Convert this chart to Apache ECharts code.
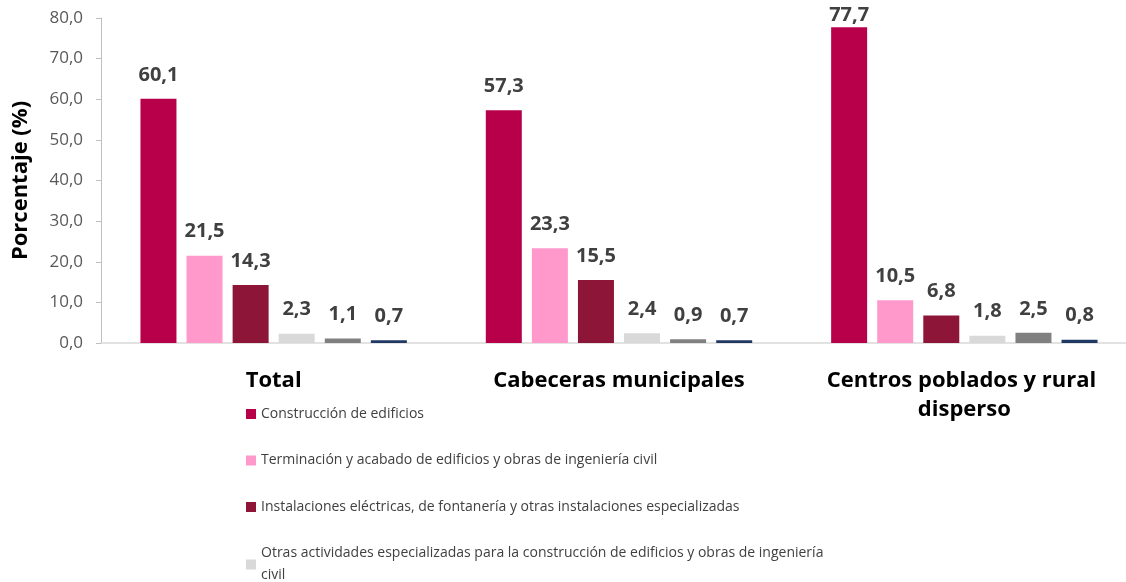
<!DOCTYPE html>
<html><head><meta charset="utf-8">
<script src="https://cdn.jsdelivr.net/npm/echarts@6/dist/echarts.min.js"></script>
<style>html,body{margin:0;padding:0;background:#fff}#c{width:1126px;height:582px}</style>
</head><body><div id="c"></div>
<script>
var categories = ['Total', 'Cabeceras municipales', 'Centros poblados y rural disperso'];
var seriesNames = [
  'Construcción de edificios',
  'Terminación y acabado de edificios y obras de ingeniería civil',
  'Instalaciones eléctricas, de fontanería y otras instalaciones especializadas',
  'Otras actividades especializadas para la construcción de edificios y obras de ingeniería civil',
  'Demolición y preparación del terreno',
  'Construcción de obras de ingeniería civil'
];
var construccionEdificios = [60.1, 57.3, 77.7];
var terminacionAcabado = [21.5, 23.3, 10.5];
var instalaciones = [14.3, 15.5, 6.8];
var otrasActividades = [2.3, 2.4, 1.8];
var demolicion = [1.1, 0.9, 2.5];
var obrasCiviles = [0.7, 0.7, 0.8];
var yTicks = [0, 10, 20, 30, 40, 50, 60, 70, 80];

var values = [construccionEdificios, terminacionAcabado, instalaciones, otrasActividades, demolicion, obrasCiviles];
var colors = ['#B8004A', '#FF99CC', '#8C1538', '#D9D9D9', '#808080', '#1F3864'];
var font = '"Open Sans", "Noto Sans", sans-serif';

// wrap long legend names like the original
function wrapText(s, maxChars) {
  var words = s.split(' '), lines = [], cur = '';
  words.forEach(function (w) {
    if ((cur + ' ' + w).trim().length > maxChars) { lines.push(cur); cur = w; }
    else cur = (cur + ' ' + w).trim();
  });
  lines.push(cur);
  return lines.join('\n');
}

var series = values.map(function (arr, i) {
  return {
    name: seriesNames[i],
    type: 'bar',
    barWidth: 36,
    barGap: '28%',
    itemStyle: { color: colors[i] },
    data: arr.map(function (v) {
      var d = { value: v };
      if (v > 75) d.label = { distance: 2 };
      return d;
    }),
    label: {
      show: true, position: 'top', distance: 14,
      fontFamily: font, fontWeight: 'bold', fontSize: 20, color: '#404040',
      formatter: function (p) { return p.value.toFixed(1).replace('.', ','); }
    }
  };
});

var chart = echarts.init(document.getElementById('c'));
chart.setOption({
  animation: false,
  color: colors,
  grid: { left: 101, right: -11, top: 18, bottom: 239, containLabel: false, outerBoundsMode: 'none' },
  legend: {
    orient: 'vertical', left: 241, top: 398, height: 1000,
    itemWidth: 10, itemHeight: 10, itemGap: 24.5,
    icon: 'rect',
    data: seriesNames,
    formatter: function (n) { return wrapText(n, 88); },
    textStyle: { fontFamily: font, fontSize: 14, color: '#404040', lineHeight: 22 },
    selectedMode: false
  },
  xAxis: {
    type: 'category', data: categories,
    axisLine: { show: true, lineStyle: { color: '#D9D9D9', width: 1.5 } },
    axisTick: { show: false },
    axisLabel: {
      fontFamily: font, fontWeight: 'bold', fontSize: 22, color: '#000',
      margin: 23, width: 285, overflow: 'break', lineHeight: 29, interval: 0, align: 'center'
    }
  },
  yAxis: {
    type: 'value', min: yTicks[0], max: yTicks[yTicks.length - 1], interval: 10,
    name: 'Porcentaje (%)', nameLocation: 'middle', nameGap: 69, nameRotate: 90,
    nameTextStyle: { fontFamily: font, fontWeight: 'bold', fontSize: 22, color: '#000' },
    axisLine: { show: true, lineStyle: { color: '#BFBFBF', width: 1 } },
    axisTick: { show: true, inside: false, length: 5, lineStyle: { color: '#BFBFBF' } },
    splitLine: { show: false },
    axisLabel: {
      fontFamily: font, fontSize: 17, color: '#595959', margin: 18,
      formatter: function (v) { return v.toFixed(1).replace('.', ','); }
    }
  },
  series: series
});
</script></body></html>
